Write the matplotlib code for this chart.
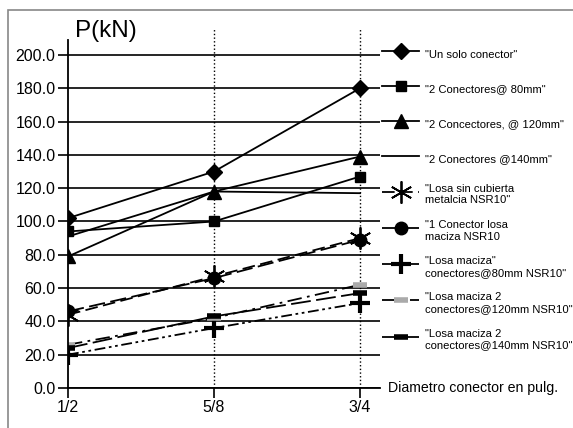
import matplotlib
matplotlib.use("Agg")
import matplotlib.pyplot as plt
from matplotlib.patches import Rectangle

plt.rcParams['font.family'] = ['Liberation Sans', 'DejaVu Sans']

# diametro del conector (pulg.)
x = [0.5, 0.625, 0.75]
xlabels = ["1/2", "5/8", "3/4"]

un_solo = [102, 130, 180]
dos_80 = [94, 100, 127]
dos_120 = [79, 118, 139]
dos_140 = [91, 118, 117]
sin_cubierta = [44, 67, 90]
uno_maciza = [46, 66, 89]
maciza_80 = [20, 36, 51]
maciza_120 = [26, 42, 62]
maciza_140 = [24, 43, 57]

labels = [
    '"Un solo conector"',
    '"2 Conectores@ 80mm"',
    '"2 Concectores, @ 120mm"',
    '"2 Conectores @140mm"',
    '"Losa sin cubierta\nmetalcia NSR10"',
    '"1 Conector losa\nmaciza NSR10',
    '"Losa maciza"\nconectores@80mm NSR10"',
    '"Losa maciza 2\nconectores@120mm NSR10"',
    '"Losa maciza 2\nconectores@140mm NSR10"',
]

fig = plt.figure(figsize=(5.73, 4.28), dpi=100)
ax = fig.add_axes([68/573, 1-388/428, 312/573, 360/428])

lw = 1.3
h = []
h += ax.plot(x, un_solo, color='k', lw=lw, marker='D', ms=8)
h += ax.plot(x, dos_80, color='k', lw=lw, marker='s', ms=7)
h += ax.plot(x, dos_120, color='k', lw=lw, marker='^', ms=10)
h += ax.plot(x, dos_140, color='k', lw=lw)
h += ax.plot(x, sin_cubierta, color='k', lw=lw, dashes=(7, 3), marker=(6, 2, 0), ms=16, mew=1.3)
h += ax.plot(x, uno_maciza, color='k', lw=lw, dashes=(9, 3), marker='o', ms=9)
h += ax.plot(x, maciza_80, color='k', lw=lw, dashes=(6, 2, 1.5, 2, 1.5, 2), marker='+', ms=14, mew=3)
h += ax.plot(x, maciza_120, color='k', lw=lw, dashes=(8, 3, 1.5, 3), marker='_', ms=10, mew=4, mec='#aaaaaa')
h += ax.plot(x, maciza_140, color='k', lw=lw, dashes=(11, 3), marker='_', ms=10, mew=4, mec='k')

ax.set_xlim(0.5, 0.75 + 20/292*0.25)
ax.set_ylim(0, 216.2)
ax.set_yticks(range(0, 201, 20))
ax.set_yticklabels([f"{v:.1f}" for v in range(0, 201, 20)])
ax.set_xticks(x)
ax.set_xticklabels(xlabels)
ax.tick_params(axis='both', direction='out', length=7, width=1.2, labelsize=11.5, pad=2, color='k')
ax.grid(axis='y', color='k', lw=1.2)
ax.set_axisbelow(True)
for xv in x[1:]:
    ax.axvline(xv, color='k', lw=1, ls=':', zorder=1)

for s in ['top', 'right']:
    ax.spines[s].set_visible(False)
ax.spines['left'].set_bounds(0, 209)
ax.spines['left'].set_linewidth(1.3)
ax.spines['bottom'].set_linewidth(1.3)

ax.annotate('P(kN)', xy=(0, 1), xycoords='axes fraction', xytext=(5, -2),
            textcoords='offset points', fontsize=17.5, va='center', ha='left')
ax.annotate('Diametro conector en pulg.', xy=(1, 0), xycoords='axes fraction',
            xytext=(6, 0), textcoords='offset points', fontsize=10.2, va='center', ha='left')

leg = fig.legend(h, labels, loc='upper left', bbox_to_anchor=(382/573, 1-44/428),
                 frameon=False, fontsize=8.1, handlelength=3.3, handleheight=2.4,
                 labelspacing=1.3, handletextpad=0.5, borderpad=0, borderaxespad=0)

fig.add_artist(Rectangle((8/573, -0.1), 1.2, 1.1 - 10/428, transform=fig.transFigure,
                         fill=False, ec='#888888', lw=1.2))

fig.savefig('out.png', dpi=100)
